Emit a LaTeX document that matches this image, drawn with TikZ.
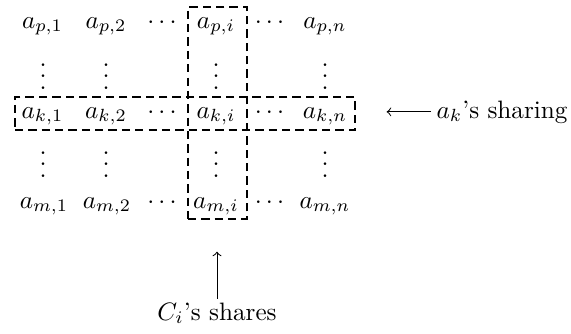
\documentclass[tikz,border=0pt]{standalone}
\usetikzlibrary{fit,positioning}
% tight vertical dots (no top kern)
\newcommand\tightvdots{\vbox{\baselineskip4.4pt\lineskiplimit0pt
  \hbox{.}\hbox{.}\hbox{.}}}
\begin{document}
\begin{tikzpicture}[
  x=0.397pt, y=-0.397pt,
  entry/.style = {anchor=base, inner sep=0pt},
  dashbox/.style = {draw, dash pattern=on 3.3pt off 2pt, line width=1pt,
    inner sep=0pt},
  lbl/.style = {inner sep=2pt},
  arr/.style = {->, line width=0.4pt}
]
\useasboundingbox (0,0) rectangle (571,333);

% row p
\node[entry] (p1)  at (42.5,28) {$a_{p,1}$};
\node[entry] (p2)  at (106,28)  {$a_{p,2}$};
\node[entry] (pd)  at (162,28)  {$\cdots$};
\node[entry] (pi)  at (216,28)  {$a_{p,i}$};
\node[entry] (pd2) at (269.5,28) {$\cdots$};
\node[entry] (pn)  at (325,28)  {$a_{p,n}$};

% vertical dots
\foreach \cx/\nm in {43/1, 106/2, 216/i, 325/n} {
  \node[entry] (u\nm) at (\cx,89)  {\tightvdots};
  \node[entry] (l\nm) at (\cx,177) {\tightvdots};
}

% row k
\node[entry] (k1)  at (42.5,118) {$a_{k,1}$};
\node[entry] (k2)  at (106,118)  {$a_{k,2}$};
\node[entry] (kd)  at (162,118)  {$\cdots$};
\node[entry] (ki)  at (216,118)  {$a_{k,i}$};
\node[entry] (kd2) at (269.5,118) {$\cdots$};
\node[entry] (kn)  at (325,118)  {$a_{k,n}$};

% row m
\node[entry] (m1)  at (44,208)  {$a_{m,1}$};
\node[entry] (m2)  at (107,208) {$a_{m,2}$};
\node[entry] (md)  at (162,208) {$\cdots$};
\node[entry] (mi)  at (216,208) {$a_{m,i}$};
\node[entry] (md2) at (269.5,208) {$\cdots$};
\node[entry] (mn)  at (325,208) {$a_{m,n}$};

% boxes
\node[dashbox, fit={(188,7) (247,219)}]  (colbox) {};
\node[dashbox, fit={(15,97) (355,130)}]  (rowbox) {};

% labels
\node[lbl, anchor=base west] (sharing) at (431,118) {$a_k$'s sharing};
\node[lbl, inner sep=1.4pt, anchor=base] (shares) at (217,320) {$C_i$'s shares};
\coordinate[left=17.6pt of sharing.west] (ktip);
\coordinate[above=18.6pt of shares.north] (ctip);

\draw[arr] (sharing.west) -- (ktip);
\draw[arr] (shares.north) -- (ctip);
\end{tikzpicture}
\end{document}
